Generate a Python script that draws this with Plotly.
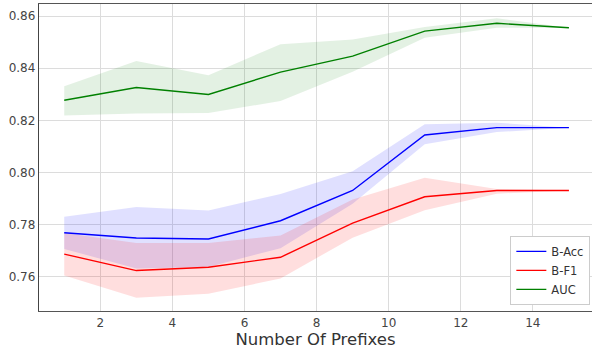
import plotly.graph_objects as go

# Number of prefixes evaluated
prefixes = [1, 3, 5, 7, 9, 11, 13, 15]

# Balanced accuracy: mean and band
bacc = [0.7769, 0.7749, 0.7745, 0.7815, 0.7931, 0.8144, 0.8172, 0.8172]
bacc_lo = [0.7707, 0.7632, 0.7638, 0.7710, 0.7880, 0.8108, 0.8155, 0.8172]
bacc_hi = [0.7830, 0.7868, 0.7854, 0.7918, 0.8005, 0.8185, 0.8191, 0.8172]

# Balanced F1: mean and band
bf1 = [0.7687, 0.7624, 0.7637, 0.7675, 0.7806, 0.7907, 0.7931, 0.7931]
bf1_lo = [0.7605, 0.7520, 0.7535, 0.7594, 0.7750, 0.7855, 0.7919, 0.7931]
bf1_hi = [0.7768, 0.7730, 0.7730, 0.7758, 0.7896, 0.7980, 0.7937, 0.7931]

# AUC: mean and band
auc = [0.8277, 0.8326, 0.8299, 0.8385, 0.8446, 0.8542, 0.8572, 0.8555]
auc_lo = [0.8219, 0.8226, 0.8228, 0.8274, 0.8386, 0.8517, 0.8555, 0.8555]
auc_hi = [0.8331, 0.8427, 0.8373, 0.8492, 0.8510, 0.8558, 0.8591, 0.8555]

x_ticks = [2, 4, 6, 8, 10, 12, 14]
y_ticks = [0.76, 0.78, 0.80, 0.82, 0.84, 0.86]

series = [
    ("B-Acc", bacc, bacc_lo, bacc_hi, "#0000ff", "rgba(0,0,255,0.12)"),
    ("B-F1", bf1, bf1_lo, bf1_hi, "#ff0000", "rgba(255,0,0,0.13)"),
    ("AUC", auc, auc_lo, auc_hi, "#008000", "rgba(0,128,0,0.11)"),
]

fig = go.Figure()
for name, mean, lo, hi, color, fill in series:
    fig.add_trace(go.Scatter(x=prefixes, y=lo, mode="lines", line=dict(width=0),
                             showlegend=False, hoverinfo="skip"))
    fig.add_trace(go.Scatter(x=prefixes, y=hi, mode="lines", line=dict(width=0),
                             fill="tonexty", fillcolor=fill,
                             showlegend=False, hoverinfo="skip"))
for name, mean, lo, hi, color, fill in series:
    fig.add_trace(go.Scatter(x=prefixes, y=mean, mode="lines", name=name,
                             line=dict(color=color, width=1.4)))

axis_font = dict(family="DejaVu Sans", size=12, color="#444444")

fig.update_layout(
    width=592, height=349,
    margin=dict(l=39, r=0, t=4, b=38),
    paper_bgcolor="white", plot_bgcolor="white",
    font=dict(family="DejaVu Sans", color="#333333"),
    xaxis=dict(
        range=[0.3, 15.64], tickvals=x_ticks, tickfont=axis_font,
        showgrid=True, gridcolor="#dcdcdc", gridwidth=1,
        showline=True, linecolor="#555555", linewidth=1.4, mirror=True,
        ticks="", zeroline=False,
        title=dict(text="Number Of Prefixes",
                   font=dict(family="DejaVu Sans", size=16.5, color="#333333"),
                   standoff=4),
    ),
    yaxis=dict(
        range=[0.7469, 0.8646], tickvals=y_ticks, tickformat=".2f",
        tickfont=axis_font,
        showgrid=True, gridcolor="#dcdcdc", gridwidth=1,
        showline=True, linecolor="#444444", linewidth=1.4, mirror=False,
        ticks="", zeroline=False,
    ),
    legend=dict(
        x=0.997, y=0.02, xanchor="right", yanchor="bottom",
        traceorder="normal", itemwidth=30,
        bgcolor="white", bordercolor="#cccccc", borderwidth=1,
        font=dict(family="DejaVu Sans", size=11.5, color="#333333"),
        tracegroupgap=0,
    ),
)

fig.write_html("out.html")
